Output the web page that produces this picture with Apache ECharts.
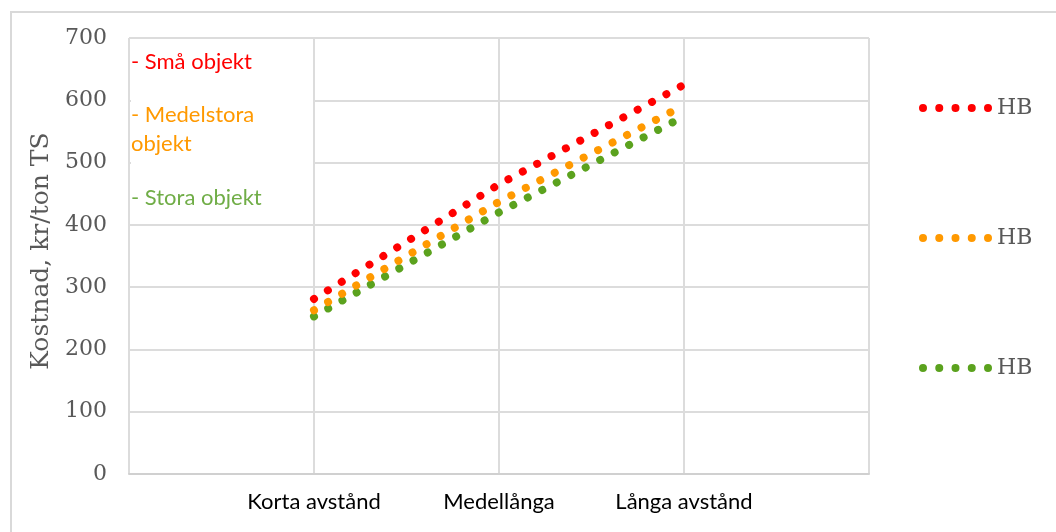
<!DOCTYPE html>
<html>
<head>
<meta charset="utf-8">
<script src="https://cdn.jsdelivr.net/npm/echarts@6/dist/echarts.min.js"></script>
<style>
  html, body { margin: 0; padding: 0; background: #fff; }
  #chart { width: 1056px; height: 532px; }
</style>
</head>
<body>
<div id="chart"></div>
<script>
// Distance classes (empty slots at both ends give the outer grid columns)
const categories = ['', 'Korta avstånd', 'Medellånga', 'Långa avstånd', ''];

// Cost per ton TS for small, medium and large objects
const smaObjekt = [null, 281, 465, 625, null];
const medelstoraObjekt = [null, 263, 437, 592, null];
const storaObjekt = [null, 253, 420, 574, null];

const yTicks = { min: 0, max: 700, interval: 100 };

// Legend names (each entry reads "HB"; trailing spaces keep them distinct)
const legendNames = ['HB', 'HB ', 'HB  '];

const annotations = [
  { text: '- Små objekt', color: '#FF0000', center: 62 },
  { text: '- Medelstora', color: '#FF9900', center: 115 },
  { text: 'objekt', color: '#FF9900', center: 144 },
  { text: '- Stora objekt', color: '#70AD47', center: 198 }
];

const colors = ['#FF0000', '#FF9900', '#5BA21E'];
const dotted = { width: 8, type: [0.01, 16.3], cap: 'round', join: 'round' };

// Five round dots as the legend marker
function dotsPath(n, step, r) {
  let d = '';
  for (let i = 0; i < n; i++) {
    const cx = r + step * i;
    d += `M${cx - r} ${r}A${r} ${r} 0 1 1 ${cx + r} ${r}A${r} ${r} 0 1 1 ${cx - r} ${r}Z`;
  }
  return 'path://' + d;
}

const chart = echarts.init(document.getElementById('chart'), null, { renderer: 'canvas' });

const serifFont = 'DejaVu Serif';
const sansFont = 'Lato';

chart.setOption({
  animation: false,
  backgroundColor: '#fff',
  grid: { left: 129, right: 187, top: 38, bottom: 58, containLabel: false },
  xAxis: {
    type: 'category',
    data: categories,
    boundaryGap: false,
    axisLine: { show: true, lineStyle: { color: '#d0d0d0', width: 2 } },
    axisTick: { show: false },
    axisLabel: {
      interval: 0, color: '#000', fontFamily: sansFont, fontSize: 22, margin: 17
    },
    splitLine: { show: true, lineStyle: { color: '#dcdcdc', width: 2 } }
  },
  yAxis: {
    type: 'value',
    min: yTicks.min, max: yTicks.max, interval: yTicks.interval,
    name: 'Kostnad, kr/ton TS',
    nameLocation: 'middle',
    nameGap: 73,
    nameTextStyle: { color: '#595959', fontFamily: serifFont, fontSize: 25, padding: [0, 0, 0, 10] },
    axisLine: { show: false },
    axisTick: { show: false },
    axisLabel: { color: '#595959', fontFamily: serifFont, fontSize: 22, margin: 22 },
    splitLine: { show: true, lineStyle: { color: '#dcdcdc', width: 2 } }
  },
  legend: {
    orient: 'vertical',
    left: 914,
    top: 91,
    itemWidth: 73,
    itemHeight: 8,
    itemGap: 106,
    itemTextGap: 3,
    icon: dotsPath(5, 16.25, 4),
    symbolKeepAspect: false,
    selectedMode: false,
    textStyle: { color: '#595959', fontFamily: serifFont, fontSize: 22, lineHeight: 24 },
    data: legendNames
  },
  series: [
    { name: legendNames[0], type: 'line', data: smaObjekt, color: colors[0],
      symbol: 'none', lineStyle: Object.assign({ color: colors[0] }, dotted), z: 5 },
    { name: legendNames[1], type: 'line', data: medelstoraObjekt, color: colors[1],
      symbol: 'none', lineStyle: Object.assign({ color: colors[1] }, dotted), z: 4 },
    { name: legendNames[2], type: 'line', data: storaObjekt, color: colors[2],
      symbol: 'none', lineStyle: Object.assign({ color: colors[2] }, dotted), z: 3 }
  ],
  graphic: [
    // outer chart frame
    { type: 'rect', z: 1, shape: { x: 11, y: 12, width: 1200, height: 700 },
      style: { fill: null, stroke: '#d9d9d9', lineWidth: 2 }, silent: true },
    // text box behind the group labels
    { type: 'rect', z: 100, shape: { x: 131, y: 40, width: 182, height: 176 },
      style: { fill: '#fff' }, silent: true }
  ].concat(annotations.map(a => ({
    type: 'text', z: 101, x: 131, y: a.center, silent: true,
    style: { text: a.text, fill: a.color, font: `22px ${sansFont}`, verticalAlign: 'middle' }
  })))
});
</script>
</body>
</html>
